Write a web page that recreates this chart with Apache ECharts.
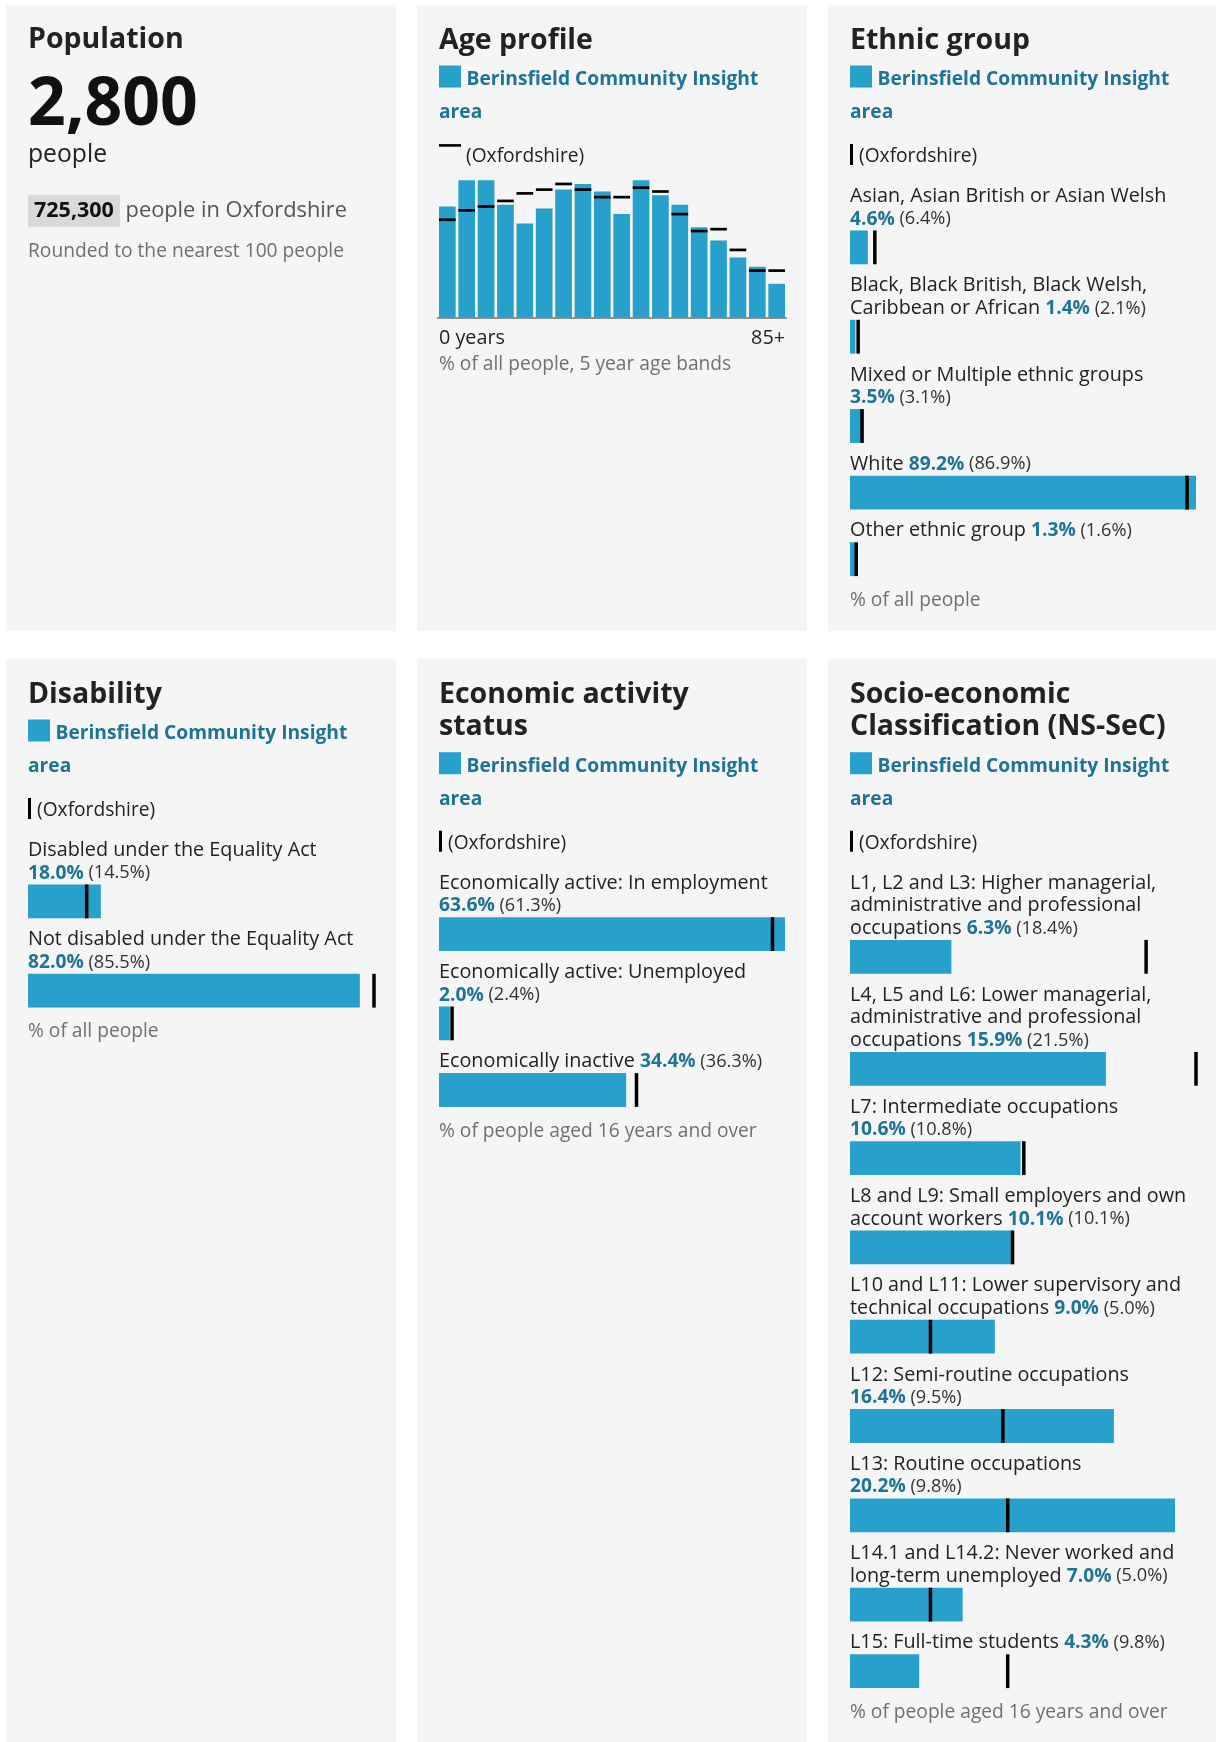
<!DOCTYPE html>
<html>
<head>
<meta charset="utf-8">
<script src="https://cdn.jsdelivr.net/npm/echarts@6/dist/echarts.min.js"></script>
<style>
  html, body { margin: 0; padding: 0; background: #ffffff; }
  #chart { width: 1216px; height: 1742px; }
</style>
</head>
<body>
<div id="chart"></div>
<script>
// ---------------- DATA ----------------
const AREA_NAME = 'Berinsfield Community Insight area';
const COMP_NAME = 'Oxfordshire';

const populationArea = 2800;
const populationComparator = 725300;

const ageBands = ['0-4', '5-9', '10-14', '15-19', '20-24', '25-29', '30-34', '35-39', '40-44',
                  '45-49', '50-54', '55-59', '60-64', '65-69', '70-74', '75-79', '80-84', '85+'];
const ageArea = [5.9, 7.3, 7.3, 6.0, 5.0, 5.8, 6.8, 7.1, 6.7, 5.5, 7.3, 6.5, 6.0, 4.8, 4.1, 3.2, 2.7, 1.8];
const ageComparator = [5.2, 5.7, 5.9, 6.2, 6.6, 6.8, 7.1, 6.8, 6.4, 6.4, 6.9, 6.7, 5.5, 4.6, 4.7, 3.6, 2.5, 2.5];
const ageTickLabels = ['0 years', '85+'];

// "\n" marks the reference's line breaks; a trailing "\n" puts the value on its own line
const ethnicGroups = ['Asian, Asian British or Asian Welsh\n',
                      'Black, Black British, Black Welsh,\nCaribbean or African',
                      'Mixed or Multiple ethnic groups\n',
                      'White',
                      'Other ethnic group'];
const ethnicArea = [4.6, 1.4, 3.5, 89.2, 1.3];
const ethnicComparator = [6.4, 2.1, 3.1, 86.9, 1.6];

const disabilityGroups = ['Disabled under the Equality Act\n', 'Not disabled under the Equality Act\n'];
const disabilityArea = [18.0, 82.0];
const disabilityComparator = [14.5, 85.5];

const economicGroups = ['Economically active: In employment\n', 'Economically active: Unemployed\n', 'Economically inactive'];
const economicArea = [63.6, 2.0, 34.4];
const economicComparator = [61.3, 2.4, 36.3];

const nssecGroups = ['L1, L2 and L3: Higher managerial,\nadministrative and professional\noccupations',
                     'L4, L5 and L6: Lower managerial,\nadministrative and professional\noccupations',
                     'L7: Intermediate occupations\n',
                     'L8 and L9: Small employers and own\naccount workers',
                     'L10 and L11: Lower supervisory and\ntechnical occupations',
                     'L12: Semi-routine occupations\n',
                     'L13: Routine occupations\n',
                     'L14.1 and L14.2: Never worked and\nlong-term unemployed',
                     'L15: Full-time students'];
const nssecArea = [6.3, 15.9, 10.6, 10.1, 9.0, 16.4, 20.2, 7.0, 4.3];
const nssecComparator = [18.4, 21.5, 10.8, 10.1, 5.0, 9.5, 9.8, 5.0, 9.8];

// ---------------- STYLE ----------------
const FF = '"Open Sans", "Noto Sans", sans-serif';
const BAR_COL = '#27a0cc';
const AREA_COL = '#1d7494';
const TEXT_COL = '#222222';
const CMP_COL = '#333333';
const GRAY = '#707070';
const MARK_COL = '#000000';
const PANEL_BG = '#f5f5f5';
const TITLE_FS = 28.5, LABEL_FS = 19.8, SMALL_FS = 19.2, VALUE_FS = 19.2, CMP_FS = 18.2;
const K = 0.25;                // canvas "middle" -> alphabetic baseline factor
const PAD = 22, CW = 346, PANEL_W = 390;
const LINE = 22.7, BAR_TOP_GAP = 6.5, BAR_H = 33.8, ROW_GAP = 26.3, NOTE_GAP = 29.0;

const graphics = [];
const grids = [], xAxes = [], yAxes = [], series = [];

function txt(x, base, str, size, weight, color, extra) {
  graphics.push({
    type: 'text', x: x, y: base - K * size, silent: true, z: 5,
    style: Object.assign({ text: str, fontSize: size, fontWeight: weight, fontFamily: FF,
      fill: color, align: 'left', verticalAlign: 'middle' }, extra || {})
  });
}
function rect(x, y, w, h, color, z) {
  graphics.push({ type: 'rect', silent: true, z: z == null ? 5 : z,
    shape: { x: x, y: y, width: w, height: h }, style: { fill: color } });
}
const fmt = v => v.toFixed(1) + '%';

function panel(px, py, h) { rect(px, py, PANEL_W, h, PANEL_BG, -10); }

function header(px, py, titleLines, dashLegend) {
  const L = px + PAD;
  titleLines.forEach((t, i) => txt(L, py + 42.5 + i * 32.5, t, TITLE_FS, 'bold', TEXT_COL));
  const o = (titleLines.length - 1) * 32.7;
  rect(L, py + 60.5 + o, 22, 22, BAR_COL);
  const words = AREA_NAME.split(' ');
  txt(L + 27.5, py + 79.5 + o, words.slice(0, -1).join(' '), VALUE_FS, 'bold', AREA_COL);
  txt(L, py + 112.5 + o, words[words.length - 1], VALUE_FS, 'bold', AREA_COL);
  if (dashLegend) {
    rect(L, py + 139.1 + o, 22, 2.6, MARK_COL);
    txt(L + 27, py + 156.8 + o, '(' + COMP_NAME + ')', SMALL_FS, 'normal', TEXT_COL);
  } else {
    rect(L, py + 139 + o, 3, 21, MARK_COL);
    txt(L + 9, py + 156.8 + o, '(' + COMP_NAME + ')', SMALL_FS, 'normal', TEXT_COL);
  }
  return py + 196.3 + o;
}

function valueLine(x, base, label, v, c) {
  const s = (label ? '{l|' + label + ' }' : '') + '{v|' + fmt(v) + '}{c| (' + fmt(c) + ')}';
  graphics.push({
    type: 'text', x: x, y: base - K * LABEL_FS, silent: true, z: 5,
    style: {
      text: s, fontSize: LABEL_FS, fontFamily: FF, fill: TEXT_COL, align: 'left', verticalAlign: 'middle',
      rich: {
        l: { fontSize: LABEL_FS, fontFamily: FF, fontWeight: 'normal', fill: TEXT_COL, color: TEXT_COL },
        v: { fontSize: VALUE_FS, fontFamily: FF, fontWeight: 'bold', fill: AREA_COL, color: AREA_COL },
        c: { fontSize: CMP_FS, fontFamily: FF, fontWeight: 'normal', fill: CMP_COL, color: CMP_COL }
      }
    }
  });
}

function barRows(px, firstBase, cats, area, comp, note) {
  const L = px + PAD;
  const max = Math.max.apply(null, area.concat(comp));
  let base = firstBase;
  let lastBottom = 0;
  cats.forEach((cat, i) => {
    const lines = cat.split('\n');
    lines.forEach((ln, j) => {
      const b = base + j * LINE;
      if (j < lines.length - 1) txt(L, b, ln, LABEL_FS, 'normal', TEXT_COL);
      else valueLine(L, b, ln, area[i], comp[i]);
    });
    const lastBase = base + (lines.length - 1) * LINE;
    const top = lastBase + BAR_TOP_GAP;
    const g = grids.length;
    grids.push({ left: L, top: top, width: CW, height: BAR_H });
    xAxes.push({ type: 'value', gridIndex: g, min: 0, max: max, show: false });
    yAxes.push({ type: 'category', gridIndex: g, data: [cat.replace(/\n/g, ' ').trim()], show: false });
    series.push({ type: 'bar', xAxisIndex: g, yAxisIndex: g, data: [area[i]], barWidth: '100%',
      itemStyle: { color: BAR_COL }, silent: true, z: 2 });
    series.push({ type: 'scatter', xAxisIndex: g, yAxisIndex: g, data: [comp[i]], symbol: 'rect',
      symbolSize: [3.5, BAR_H], itemStyle: { color: MARK_COL, opacity: 1 }, silent: true, z: 3 });
    lastBottom = top + BAR_H;
    base = lastBottom + ROW_GAP;
  });
  txt(L, lastBottom + NOTE_GAP, note, SMALL_FS, 'normal', GRAY);
}

// ---------------- LAYOUT ----------------
const COLX = [6, 417, 828];
const ROWY = [5, 659];

// Panels
panel(COLX[0], ROWY[0], 626); panel(COLX[1], ROWY[0], 626); panel(COLX[2], ROWY[0], 626);
panel(COLX[0], ROWY[1], 1090); panel(COLX[1], ROWY[1], 1090); panel(COLX[2], ROWY[1], 1090);

// Population
(function () {
  const L = COLX[0] + PAD, T = ROWY[0];
  txt(L, T + 42, 'Population', TITLE_FS, 'bold', TEXT_COL);
  txt(L, T + 118, populationArea.toLocaleString('en-GB'), 66, 'bold', '#111111');
  txt(L, T + 156.5, 'people', 24.7, 'normal', TEXT_COL);
  graphics.push({
    type: 'text', x: L, y: T + 211.2 - K * 21.8, silent: true, z: 5,
    style: {
      text: '{b|' + populationComparator.toLocaleString('en-GB') + '}{r| people in ' + COMP_NAME + '}',
      fontSize: 21.8, fontFamily: FF, align: 'left', verticalAlign: 'middle', fill: TEXT_COL,
      rich: {
        b: { fontSize: 21.5, fontFamily: FF, fontWeight: 'bold', fill: '#111111', color: '#111111',
             backgroundColor: '#d9d9d9', padding: [5, 6, 5, 6] },
        r: { fontSize: 21.8, fontFamily: FF, fontWeight: 'normal', fill: '#555555', color: '#555555' }
      }
    }
  });
  txt(L, T + 251.5, 'Rounded to the nearest 100 people', SMALL_FS, 'normal', GRAY);
})();

// Age profile
(function () {
  const px = COLX[1], T = ROWY[0], L = px + PAD;
  header(px, T, ['Age profile'], true);
  const step = CW / (ageBands.length - 0.14);
  const gi = grids.length;
  grids.push({ left: L - step * 0.07, top: T + 175.2, width: step * ageBands.length, height: 137.5 });
  xAxes.push({ type: 'category', gridIndex: gi, data: ageBands,
    axisLine: { show: true, lineStyle: { color: '#6f6f6f', width: 1.6 } },
    axisTick: { show: false }, axisLabel: { show: false }, splitLine: { show: false } });
  yAxes.push({ type: 'value', gridIndex: gi, min: 0, max: Math.max.apply(null, ageArea.concat(ageComparator)), show: false });
  series.push({ type: 'bar', xAxisIndex: gi, yAxisIndex: gi, data: ageArea, barCategoryGap: '14%',
    itemStyle: { color: BAR_COL }, silent: true, z: 2 });
  series.push({ type: 'scatter', xAxisIndex: gi, yAxisIndex: gi, data: ageComparator, symbol: 'rect',
    symbolSize: [step * 0.86, 2.7], itemStyle: { color: MARK_COL, opacity: 1 }, silent: true, z: 3 });
  txt(L, T + 338.5, ageTickLabels[0], LABEL_FS, 'normal', TEXT_COL);
  txt(L + CW, T + 338.5, ageTickLabels[1], LABEL_FS, 'normal', TEXT_COL, { align: 'right' });
  txt(L, T + 364.5, '% of all people, 5 year age bands', SMALL_FS, 'normal', GRAY);
})();

// Ethnic group
(function () {
  const px = COLX[2], T = ROWY[0];
  const first = header(px, T, ['Ethnic group'], false);
  barRows(px, first, ethnicGroups, ethnicArea, ethnicComparator, '% of all people');
})();

// Disability
(function () {
  const px = COLX[0], T = ROWY[1];
  const first = header(px, T, ['Disability'], false);
  barRows(px, first, disabilityGroups, disabilityArea, disabilityComparator, '% of all people');
})();

// Economic activity
(function () {
  const px = COLX[1], T = ROWY[1];
  const first = header(px, T, ['Economic activity', 'status'], false);
  barRows(px, first, economicGroups, economicArea, economicComparator, '% of people aged 16 years and over');
})();

// NS-SeC
(function () {
  const px = COLX[2], T = ROWY[1];
  const first = header(px, T, ['Socio-economic', 'Classification (NS-SeC)'], false);
  barRows(px, first, nssecGroups, nssecArea, nssecComparator, '% of people aged 16 years and over');
})();

const chart = echarts.init(document.getElementById('chart'), null, { renderer: 'canvas' });
chart.setOption({
  backgroundColor: '#ffffff',
  animation: false,
  grid: grids,
  xAxis: xAxes,
  yAxis: yAxes,
  series: series,
  graphic: { elements: graphics }
});
</script>
</body>
</html>
